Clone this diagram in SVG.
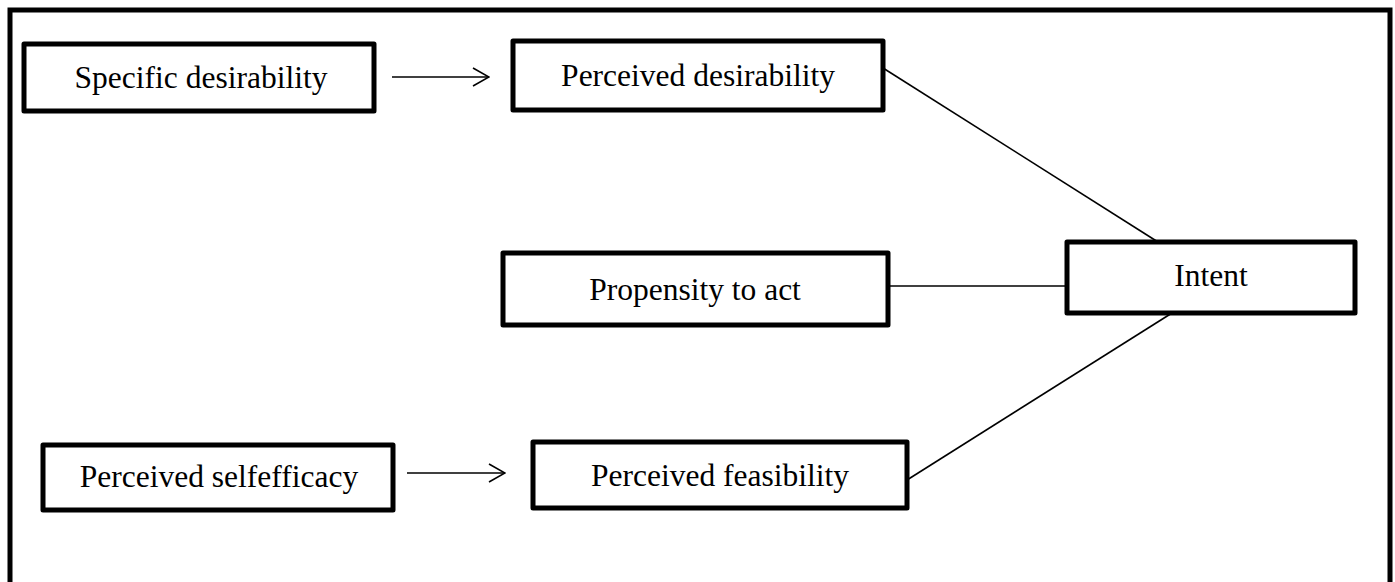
<svg xmlns="http://www.w3.org/2000/svg" width="1395" height="582" viewBox="0 0 1395 582">
<defs>
<style>
.box{fill:#fff;stroke:#000;stroke-width:5;stroke-linejoin:round}
.lbl{font-family:"Liberation Serif","Times New Roman",serif;font-size:31.5px;fill:#000;text-anchor:middle}
.ln{stroke:#000;stroke-width:1.6;fill:none}
</style>
<marker id="arr" viewBox="0 0 18 20" refX="17" refY="10" markerWidth="18" markerHeight="20" markerUnits="userSpaceOnUse" orient="auto">
<path d="M1,1 L17,10 L1,19" fill="none" stroke="#000" stroke-width="1.6"/>
</marker>
</defs>
<rect width="1395" height="582" fill="#fff"/>
<path d="M10,584 V10 H1390 V584" fill="none" stroke="#000" stroke-width="5"/>
<g id="connectors">
<line class="ln" x1="392" y1="77" x2="489" y2="77" marker-end="url(#arr)"/>
<line class="ln" x1="407" y1="473" x2="505" y2="473" marker-end="url(#arr)"/>
<line class="ln" x1="883" y1="68" x2="1158" y2="242"/>
<line class="ln" x1="888" y1="286" x2="1067" y2="286"/>
<line class="ln" x1="1172" y1="313" x2="907" y2="480"/>
</g>
<g id="specific-desirability">
<rect class="box" x="24" y="44" width="350" height="67"/>
<text class="lbl" x="201" y="88">Specific desirability</text>
</g>
<g id="perceived-desirability">
<rect class="box" x="513" y="41" width="370" height="69"/>
<text class="lbl" x="698" y="86">Perceived desirability</text>
</g>
<g id="propensity-to-act">
<rect class="box" x="503" y="253" width="385" height="72"/>
<text class="lbl" x="695" y="300">Propensity to act</text>
</g>
<g id="intent">
<rect class="box" x="1067" y="242" width="288" height="71"/>
<text class="lbl" x="1211" y="286">Intent</text>
</g>
<g id="perceived-selfefficacy">
<rect class="box" x="43" y="445" width="350" height="65"/>
<text class="lbl" x="219" y="487">Perceived selfefficacy</text>
</g>
<g id="perceived-feasibility">
<rect class="box" x="533" y="442" width="374" height="66"/>
<text class="lbl" x="720" y="486">Perceived feasibility</text>
</g>
</svg>
